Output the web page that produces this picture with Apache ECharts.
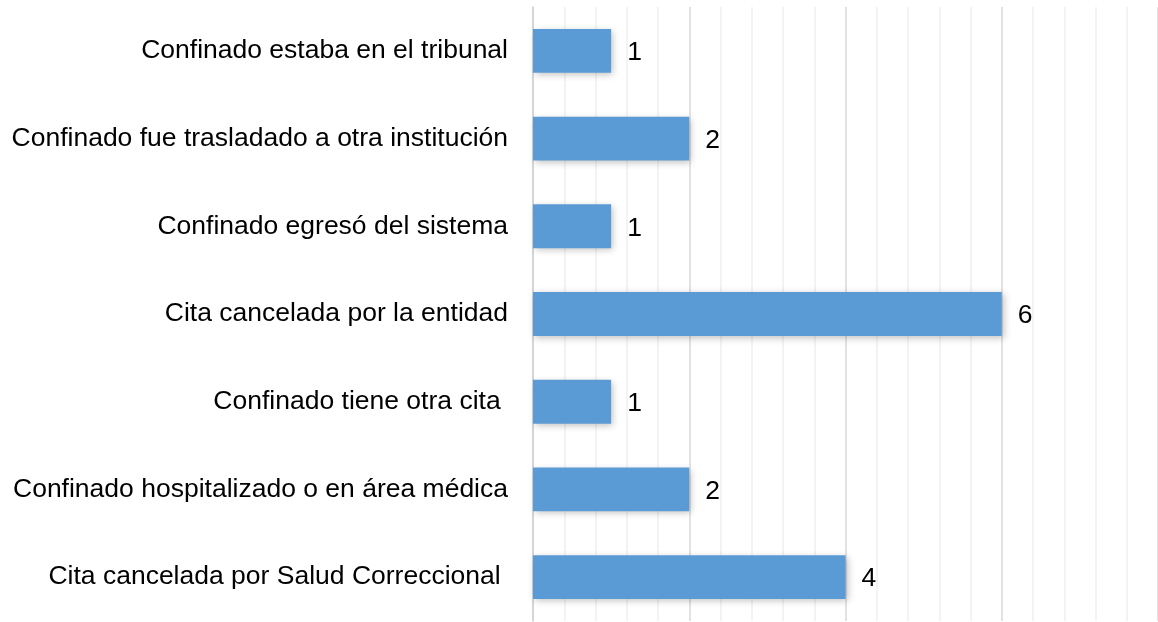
<!DOCTYPE html>
<html>
<head>
<meta charset="utf-8">
<script src="https://cdn.jsdelivr.net/npm/echarts@6/dist/echarts.min.js"></script>
<style>
    html, body { margin: 0; padding: 0; background: #fff; }
    #chart-bar-01 { width: 1158px; height: 622px; }
</style>
</head>
<body>
<div id="chart-bar-01"></div>
<script>
// 类别与数值
var categories = [
    'Confinado estaba en el tribunal',
    'Confinado fue trasladado a otra institución',
    'Confinado egresó del sistema',
    'Cita cancelada por la entidad',
    'Confinado tiene otra cita ',
    'Confinado hospitalizado o en área médica',
    'Cita cancelada por Salud Correccional '
];
var values = [1, 2, 1, 6, 1, 2, 4];

// 柱状图
function getChartsBarOne(xObj, yObj) {
    var chartbar1 = echarts.init(document.getElementById('chart-bar-01'));

    var option = {
        animation: false,
        textStyle: {
            fontFamily: 'Liberation Sans, Arial, sans-serif'
        },
        grid: {
            left: 533,
            right: -2,
            top: 7,
            bottom: 1
        },
        xAxis: {
            type: 'value',
            min: 0,
            max: 8,
            interval: 2,
            axisLabel: { show: false },
            axisLine: { show: false },
            axisTick: { show: false },
            splitLine: {
                lineStyle: {
                    color: '#d9d9d9',
                    width: 1.5
                }
            },
            minorTick: {
                show: false,
                splitNumber: 5
            },
            minorSplitLine: {
                show: true,
                lineStyle: {
                    color: '#efefef',
                    width: 1.5
                }
            }
        },
        yAxis: {
            type: 'category',
            data: xObj,
            inverse: true,
            axisLabel: {
                color: '#000',
                fontSize: 26.5,
                margin: 25
            },
            axisLine: {
                lineStyle: {
                    color: '#d0d0d0',
                    width: 1.5
                }
            },
            axisTick: {
                length: 6,
                lineStyle: {
                    color: '#d0d0d0',
                    width: 1.5
                }
            }
        },
        series: [{
            data: yObj,
            type: 'bar',
            barCategoryGap: '50%',
            itemStyle: {
                color: '#5b9bd5',
                shadowColor: 'rgba(0,0,0,0.25)',
                shadowBlur: 7,
                shadowOffsetX: 2,
                shadowOffsetY: 2
            },
            label: {
                show: true,
                position: 'right',
                distance: 16,
                offset: [0, 2],
                color: '#000',
                fontSize: 26.5
            }
        }]
    };

    chartbar1.setOption(option);
}

getChartsBarOne(categories, values);
</script>
</body>
</html>
